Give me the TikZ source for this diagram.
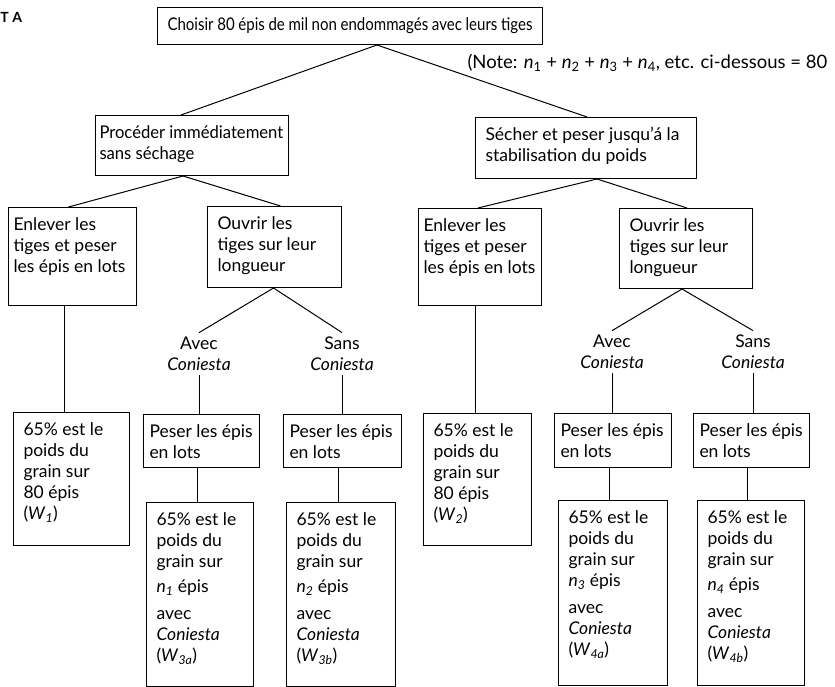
\documentclass[tikz,border=0pt]{standalone}
\usepackage{fontspec}
\setmainfont{Lato}
\newfontfamily\squeezedfont{Lato}[FakeStretch=0.86]
\newfontfamily\narrowfont{Lato}[FakeStretch=0.95]
\usetikzlibrary{calc}

% text block with fixed size, set from the top
\newcommand{\cellbox}[3]{\parbox[c][#2pt][t]{#1pt}{\raggedright\strut #3}}
\newcommand{\nsub}[2]{\textit{#1}\textsubscript{\textit{#2}}}

\begin{document}
\begin{tikzpicture}[
		x=1pt, y=-1pt, % pixel-like coordinates
		font=\fontsize{17.5}{21}\selectfont,
		line width=1pt,
		box/.style={draw, anchor=north west, inner xsep=10pt, inner ysep=8pt},
		tight/.style={box, inner xsep=5pt},
		choice/.style={align=center, inner sep=4pt}
		]
		\useasboundingbox (0,0) rectangle (835,687);
		
		% --- 1. Heading and note ---
		\node[anchor=west, inner sep=0pt, font=\bfseries\fontsize{14}{16}\selectfont] (part) at (0,17) {T A};
		\node[box] (top) at (157,7) {\cellbox{365}{21}{\squeezedfont Choisir 80 épis de mil non endommagés avec leurs tiges}};
		\node[anchor=west, inner sep=0pt, font=\fontsize{18.5}{21}\selectfont] (note) at (467,63)
		{(Note: \textit{n}\textsubscript{1} + \textit{n}\textsubscript{2} + \textit{n}\textsubscript{3} + \textit{n}\textsubscript{4}, etc. ci-dessous = 80};
		
		% --- 2. Second level ---
		\node[tight, inner xsep=4pt] (fresh) at (95,115) {\cellbox{185}{44}{\narrowfont Procéder immédiatement\\sans séchage}};
		\node[box] (dry) at (475,117) {\cellbox{201}{45}{Sécher et peser jusqu'á la\\stabilisation du poids}};
		
		% --- 3. Third level ---
		\node[tight] (cutA) at (8,207) {\cellbox{118}{82}{Enlever les\\tiges et peser\\les épis en lots}};
		\node[box] (openA) at (207,206) {\cellbox{114}{65}{Ouvrir les\\tiges sur leur\\longueur}};
		\node[tight] (cutB) at (418,208) {\cellbox{113}{81}{Enlever les\\tiges et peser\\les épis en lots}};
		\node[box] (openB) at (619,208) {\cellbox{113}{64}{Ouvrir les\\tiges sur leur\\longueur}};
		
		% --- 4. Whole lots ---
		\node[box] (wA) at (13,412) {\cellbox{96}{117}{65\% est le\\poids du\\grain sur\\80 épis\\(\nsub{W}{1})}};
		\node[box] (wB) at (423,413) {\cellbox{88}{116}{65\% est le\\poids du\\grain sur\\80 épis\\(\nsub{W}{2})}};
		
		% --- 5. With / without Coniesta ---
		\node[choice] (withA) at (199,354) {Avec\\\textit{Coniesta}};
		\node[choice] (withoutA) at (342,354) {Sans\\\textit{Coniesta}};
		\node[choice] (withB) at (612,352) {Avec\\\textit{Coniesta}};
		\node[choice] (withoutB) at (753,352) {Sans\\\textit{Coniesta}};
		
		\node[box, inner xsep=6pt] (weighA1) at (143,414) {\cellbox{104}{37}{Peser les épis\\en lots}};
		\node[box, inner xsep=6pt] (weighA2) at (283,414) {\cellbox{106}{37}{Peser les épis\\en lots}};
		\node[box, inner xsep=6pt] (weighB1) at (554,413) {\cellbox{105}{38}{Peser les épis\\en lots}};
		\node[box, inner xsep=6pt] (weighB2) at (693,413) {\cellbox{104}{38}{Peser les épis\\en lots}};
		
		\node[box] (resA1) at (146,502) {\cellbox{87}{168}{65\% est le\\poids du\\grain sur\\[4pt]\nsub{n}{1} épis\\[6pt]avec\\\textit{Coniesta}\\(\nsub{W}{3a})}};
		\node[box] (resA2) at (286,502) {\cellbox{89}{168}{65\% est le\\poids du\\grain sur\\[4pt]\nsub{n}{2} épis\\[6pt]avec\\\textit{Coniesta}\\(\nsub{W}{3b})}};
		\node[box] (resB1) at (558,500) {\cellbox{89}{169}{65\% est le\\poids du\\grain sur\\\nsub{n}{3} épis\\[6pt]avec\\\textit{Coniesta}\\(\nsub{W}{4a})}};
		\node[box] (resB2) at (697,500) {\cellbox{87}{169}{65\% est le\\poids du\\grain sur\\[4pt]\nsub{n}{4} épis\\[6pt]avec\\\textit{Coniesta}\\(\nsub{W}{4b})}};
		
		% --- 6. Connectors ---
		\draw ([xshift=27pt]top.south) -- ([xshift=-11pt]fresh.north);
		\draw ([xshift=27pt]top.south) -- ([xshift=1pt]dry.north);
		
		\draw ([xshift=-9pt]fresh.south) -- ([xshift=-4pt]cutA.north);
		\draw ([xshift=-9pt]fresh.south) -- ([xshift=6pt]openA.north);
		\draw ([xshift=11pt]dry.south) -- ([xshift=-2pt]cutB.north);
		\draw ([xshift=11pt]dry.south) -- ([xshift=1pt]openB.north);
		
		\draw ([xshift=-7pt]wA.north |- cutA.south) -- ([xshift=-7pt]wA.north);
		\draw ([xshift=-2pt]wB.north |- cutB.south) -- ([xshift=-2pt]wB.north);
		
		\draw ([xshift=-1pt]openA.south) -- (withA.north);
		\draw ([xshift=-1pt]openA.south) -- (withoutA.north);
		\draw ([xshift=-4pt]openB.south) -- (withB.north);
		\draw ([xshift=-4pt]openB.south) -- (withoutB.north);
		
		\foreach \lab/\lot in {withA/weighA1, withoutA/weighA2, withB/weighB1, withoutB/weighB2}
		\draw (\lab.south) -- (\lab.south |- \lot.north);
		
		\foreach \lot/\res in {weighA1/resA1, weighA2/resA2, weighB1/resB1, weighB2/resB2}
		\draw ([xshift=-4pt]\lot.south) -- ([xshift=-4pt]\lot.south |- \res.north);
		
	\end{tikzpicture}
\end{document}
